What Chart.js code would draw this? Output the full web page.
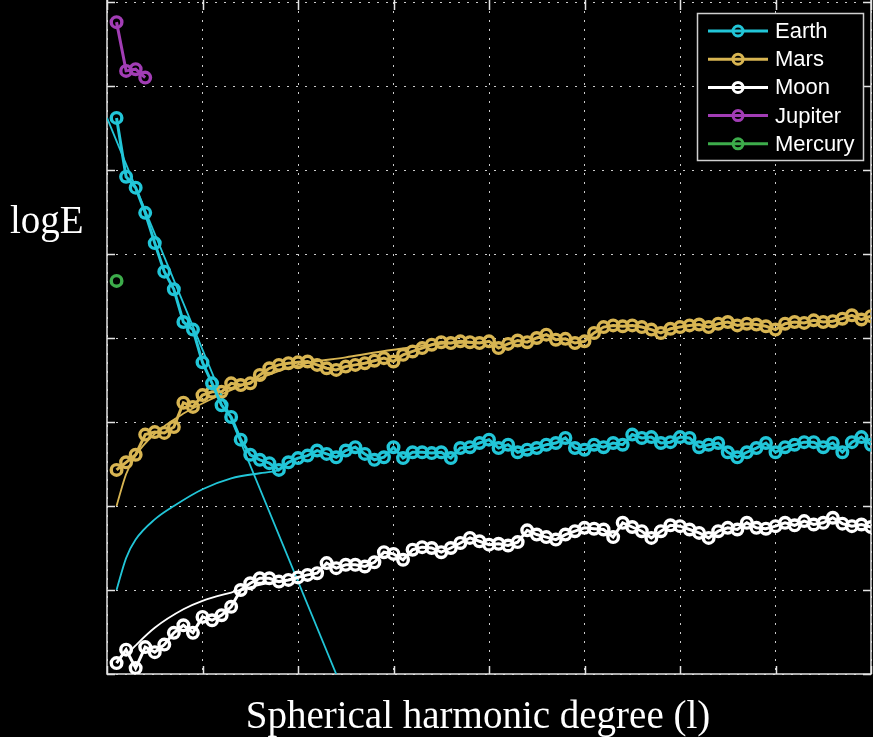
<!DOCTYPE html>
<html>
<head>
<meta charset="utf-8">
<script src="https://cdn.jsdelivr.net/npm/chart.js@4.4.1/dist/chart.umd.min.js"></script>
<style>
  html, body { margin: 0; padding: 0; background: #000; }
  #wrap { width: 873px; height: 737px; }
</style>
</head>
<body>
<div id="wrap"><canvas id="c" width="873" height="737"></canvas></div>
<script>
// ---- data ----
const degrees = [1,2,3,4,5,6,7,8,9,10,11,12,13,14,15,16,17,18,19,20,
  21,22,23,24,25,26,27,28,29,30,31,32,33,34,35,36,37,38,39,40,
  41,42,43,44,45,46,47,48,49,50,51,52,53,54,55,56,57,58,59,60,
  61,62,63,64,65,66,67,68,69,70,71,72,73,74,75,76,77,78,79,80];

const earthE = [6.62,5.92,5.79,5.49,5.13,4.79,4.58,4.19,4.10,3.71,
  3.46,3.20,3.06,2.79,2.61,2.55,2.51,2.43,2.52,2.57,
  2.60,2.66,2.62,2.58,2.66,2.70,2.62,2.55,2.58,2.70,
  2.57,2.64,2.64,2.63,2.64,2.57,2.69,2.70,2.75,2.79,
  2.69,2.73,2.64,2.67,2.69,2.73,2.75,2.81,2.69,2.67,
  2.73,2.70,2.75,2.73,2.85,2.81,2.82,2.75,2.76,2.82,
  2.81,2.70,2.73,2.75,2.64,2.58,2.64,2.69,2.75,2.64,
  2.70,2.73,2.76,2.76,2.70,2.75,2.64,2.76,2.82,2.73];

const marsE = [2.43,2.52,2.61,2.85,2.88,2.87,2.94,3.23,3.18,3.32,
  3.36,3.36,3.46,3.44,3.46,3.56,3.64,3.68,3.70,3.71,
  3.72,3.68,3.64,3.62,3.66,3.68,3.70,3.73,3.76,3.72,
  3.80,3.84,3.88,3.92,3.95,3.94,3.96,3.95,3.94,3.96,
  3.88,3.93,3.97,3.95,4.00,4.04,3.98,3.99,3.94,3.96,
  4.06,4.13,4.15,4.14,4.15,4.13,4.10,4.06,4.11,4.13,
  4.15,4.16,4.13,4.17,4.19,4.15,4.17,4.16,4.14,4.10,
  4.17,4.19,4.18,4.21,4.19,4.20,4.23,4.27,4.22,4.26];

const moonE = [0.13,0.29,0.07,0.32,0.26,0.35,0.49,0.58,0.49,0.68,
  0.64,0.70,0.80,1.00,1.08,1.14,1.14,1.10,1.12,1.15,
  1.18,1.20,1.32,1.26,1.30,1.30,1.28,1.33,1.45,1.43,
  1.36,1.48,1.51,1.50,1.45,1.50,1.56,1.62,1.58,1.54,
  1.55,1.53,1.57,1.71,1.66,1.63,1.60,1.66,1.70,1.74,
  1.73,1.72,1.63,1.80,1.75,1.70,1.62,1.70,1.77,1.76,
  1.72,1.68,1.62,1.70,1.74,1.72,1.80,1.74,1.73,1.76,
  1.80,1.77,1.82,1.78,1.80,1.86,1.79,1.76,1.78,1.75];

const jupiterDeg = [1,2,3,4];
const jupiterE = [7.76,7.18,7.20,7.10];

const mercuryDeg = [1];
const mercuryE = [4.68];

// thin fitted curves
const earthLineDeg = [0,24];
const earthLineE = [6.62,0.0];
const earthFitDeg = [1,2,3,5,7,10,13,16,18];
const earthFitE = [1.0,1.38,1.60,1.84,2.00,2.20,2.33,2.39,2.42];
const marsFitDeg = [1,2,3,5,8,12,16,20,25,30,35,40];
const marsFitE = [2.0,2.38,2.60,2.86,3.10,3.33,3.52,3.68,3.77,3.86,3.93,3.95];
const moonFitDeg = [2,3,5,8,10,13,16,20];
const moonFitE = [0.22,0.34,0.55,0.77,0.87,0.97,1.06,1.14];

const colors = { Earth:'#22c6d8', Mars:'#d8b552', Moon:'#ffffff', Jupiter:'#a23db5', Mercury:'#3dac4b' };

const xMin = 0, xMax = 80, xStep = 10;
const yMin = 0, yMax = 8, yStep = 1;

// ---- build datasets ----
const pts = (xs, ys) => ys.map((v, i) => ({ x: xs[i], y: v }));
function dataSet(name, xs, ys) {
  return {
    label: name, legendEntry: true,
    data: pts(xs, ys),
    borderColor: colors[name], borderWidth: 3,
    pointRadius: 5.3, pointBorderWidth: 3.4,
    pointBackgroundColor: 'rgba(0,0,0,0)', pointBorderColor: colors[name],
    tension: 0
  };
}
function fitSet(name, xs, ys) {
  return {
    label: name + ' fit', legendEntry: false,
    data: pts(xs, ys),
    borderColor: colors[name], borderWidth: 1.8,
    pointRadius: 0, cubicInterpolationMode: 'monotone'
  };
}

const datasets = [
  dataSet('Earth', degrees, earthE),
  dataSet('Mars', degrees, marsE),
  dataSet('Moon', degrees, moonE),
  dataSet('Jupiter', jupiterDeg, jupiterE),
  dataSet('Mercury', mercuryDeg, mercuryE),
  Object.assign(fitSet('Earth', earthLineDeg, earthLineE), { cubicInterpolationMode: 'default', tension: 0 }),
  fitSet('Earth', earthFitDeg, earthFitE),
  fitSet('Mars', marsFitDeg, marsFitE),
  fitSet('Moon', moonFitDeg, moonFitE)
];

// ---- decorations: axes lines, inward ticks, titles, legend ----
const deco = {
  id: 'deco',
  beforeDatasetsDraw(chart) {
    const { ctx, chartArea: a, scales: { x, y } } = chart;
    ctx.save();
    ctx.strokeStyle = '#e4e4e4';
    ctx.lineWidth = 1.5;
    ctx.beginPath();
    ctx.moveTo(a.left, a.top - 2); ctx.lineTo(a.left, a.bottom); ctx.lineTo(a.right, a.bottom); ctx.lineTo(a.right, a.top - 2);
    ctx.stroke();
    ctx.beginPath();
    x.ticks.forEach(t => {
      const px = Math.round(x.getPixelForValue(t.value)) + 0.5;
      ctx.moveTo(px, a.bottom); ctx.lineTo(px, a.bottom - 8);
      ctx.moveTo(px, a.top - 2); ctx.lineTo(px, a.top + 8);
    });
    y.ticks.forEach(t => {
      const py = Math.round(y.getPixelForValue(t.value)) + 0.5;
      ctx.moveTo(a.left, py); ctx.lineTo(a.left + 8, py);
      ctx.moveTo(a.right, py); ctx.lineTo(a.right - 8, py);
    });
    ctx.stroke();
    ctx.restore();
  },
  afterDraw(chart) {
    const { ctx } = chart;
    ctx.save();
    ctx.fillStyle = '#ffffff';
    ctx.font = '39px "Liberation Serif", "DejaVu Serif", serif';
    ctx.textBaseline = 'alphabetic';
    ctx.textAlign = 'center';
    ctx.fillText('Spherical harmonic degree (l)', 478, 728);
    ctx.textAlign = 'left';
    ctx.fillText('logE', 10, 233);

    const bx = 697, by = 13, bw = 166, bh = 147;
    ctx.fillStyle = '#000';
    ctx.fillRect(bx, by, bw, bh);
    ctx.strokeStyle = '#cfcfcf';
    ctx.lineWidth = 1.5;
    ctx.strokeRect(bx + 0.5, by + 0.5, bw, bh);
    const entries = chart.data.datasets.filter(d => d.legendEntry);
    ctx.font = '22px "Liberation Sans", Arial, sans-serif';
    ctx.textBaseline = 'middle';
    entries.forEach((d, i) => {
      const yy = 31 + i * 28.2;
      ctx.strokeStyle = d.borderColor;
      ctx.lineWidth = 3;
      ctx.beginPath(); ctx.moveTo(708, yy); ctx.lineTo(768, yy); ctx.stroke();
      ctx.beginPath(); ctx.arc(738, yy, 5, 0, Math.PI * 2); ctx.stroke();
      ctx.fillStyle = '#ffffff';
      ctx.fillText(d.label, 775, yy + 1);
    });
    ctx.restore();
  }
};

new Chart(document.getElementById('c'), {
  type: 'line',
  data: { datasets },
  options: {
    responsive: false,
    devicePixelRatio: 1,
    animation: false,
    layout: { autoPadding: false, padding: { top: 2, right: 2, left: 0, bottom: 0 } },
    plugins: { legend: { display: false }, tooltip: { enabled: false } },
    scales: {
      x: {
        type: 'linear', min: xMin, max: xMax,
        ticks: { display: false, stepSize: xStep },
        grid: { color: 'rgba(255,255,255,0.8)', lineWidth: 1, drawTicks: false },
        border: { display: false, dash: [2, 7] },
        afterFit(s) { s.height = 63; }
      },
      y: {
        type: 'linear', min: yMin, max: yMax,
        ticks: { display: false, stepSize: yStep },
        grid: { color: 'rgba(255,255,255,0.8)', lineWidth: 1, drawTicks: false },
        border: { display: false, dash: [2, 7] },
        afterFit(s) { s.width = 107; }
      }
    }
  },
  plugins: [deco]
});
</script>
</body>
</html>
